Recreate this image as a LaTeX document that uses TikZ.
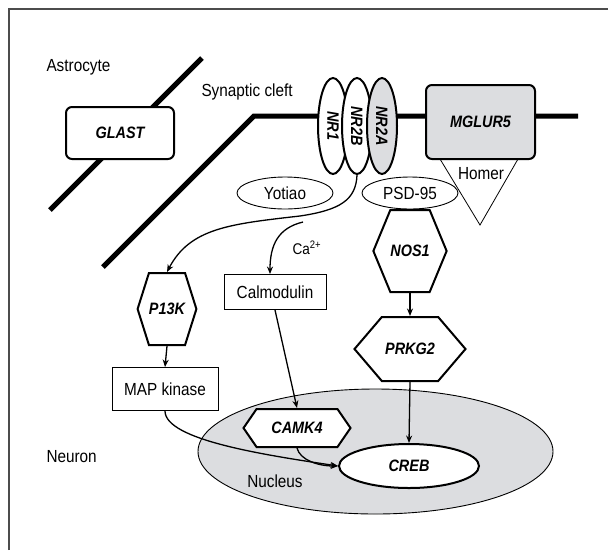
\documentclass[tikz,border=0pt]{standalone}
\usepackage{fontspec}
\setmainfont{Liberation Sans}[FakeStretch=0.875]
\usetikzlibrary{shapes.geometric,shapes.symbols,arrows.meta}
\definecolor{cellgray}{RGB}{220,221,224}
\newcommand\labfont{\fontsize{16.5}{18}\selectfont\bfseries\itshape}
\newcommand\txtfont{\fontsize{17.5}{20}\selectfont}

\begin{document}
\begin{tikzpicture}[x=1pt,y=-1pt,>={Stealth[length=7.5pt,width=6pt]},
  membrane/.style={line width=5pt},
  protein/.style={draw, line width=2pt, fill=white, font=\labfont, inner sep=0pt},
  hexa/.style={protein, signal, signal to=east and west},
  plainbox/.style={draw, line width=0.9pt, fill=white, font=\txtfont, inner sep=0pt},
  oval/.style={draw, line width=0.9pt, ellipse, fill=white, font=\txtfont, inner sep=0pt},
  nr/.style={protein, ellipse, rotate=-90, minimum width=96pt, minimum height=30pt},
  arrow/.style={->, line width=1.3pt}]
\useasboundingbox (0,0) rectangle (608,550);
\draw[line width=1.8pt, gray!60!black] (9,550)--(9,9)--(608,9);

\node[font=\txtfont, anchor=base west] (astro) at (43,71) {Astrocyte};
\node[font=\txtfont, anchor=base west] (cleft) at (198,96) {Synaptic cleft};
\node[font=\txtfont, anchor=base west] (neuron) at (43,462) {Neuron};

\draw[membrane] (50,210)--(202,58);
\draw[membrane] (103,267)--(254,116)--(578,116);

\node[protein, rounded corners=6pt, minimum width=108pt, minimum height=52pt] (glast) at (120,133) {GLAST};

\foreach \n/\x/\c/\t in {nr1/333/white/NR1, nr2b/357/white/NR2B, nr2a/382/cellgray/NR2A}{
	\node[nr, fill=\c] (\n) at (\x,126) {\t};
}

\draw[line width=0.8pt] (440,159)--(480,225)--(518,159);
\node[protein, rounded corners=6pt, fill=cellgray, minimum width=109pt, minimum height=74pt] (mglur) at (480.5,122) {MGLUR5};
\node[font=\txtfont, anchor=base] (homer) at (481,179) {Homer};

\node[oval, minimum width=96pt, minimum height=32pt] (yotiao) at (285,193) {Yotiao};
\node[oval, minimum width=96pt, minimum height=32pt] (psd) at (410,193) {PSD-95};

\node[hexa, minimum width=68pt, minimum height=82pt, signal pointer angle=135] (nos1) at (410,251) {NOS1};
\node[hexa, minimum width=111pt, minimum height=64pt, signal pointer angle=99] (prkg2) at (410,349) {PRKG2};
\node[hexa, minimum width=58pt, minimum height=72pt, signal pointer angle=145] (p13k) at (167,309) {P13K};

\node[plainbox, minimum width=106pt, minimum height=43pt] (map) at (165,389) {MAP kinase};
\node[plainbox, minimum width=102pt, minimum height=35pt] (calm) at (275,292) {Calmodulin};
\node[font=\fontsize{15.5}{17}\selectfont, anchor=base west] (ca) at (289,254) {Ca\textsuperscript{2+}};

\node[draw, ellipse, line width=0.9pt, fill=cellgray, minimum width=355pt, minimum height=125pt] (nucleus) at (375.5,451.5) {};
\node[font=\txtfont, anchor=base] (nuctext) at (275,487) {Nucleus};
\node[hexa, minimum width=107pt, minimum height=38pt, signal pointer angle=111] (camk4) at (297,428) {CAMK4};
\node[protein, ellipse, minimum width=140pt, minimum height=44pt] (creb) at (409,466) {CREB};

\coordinate (castart) at (303,222);
\draw[arrow] (nr2b.east) .. controls (356,200) and (340,210) .. (300,216) .. controls (230,224) and (190,228) .. (p13k.north);
\draw[arrow] (castart) .. controls (278,228) and (270,245) .. ([xshift=-5pt]calm.north);
\draw[arrow] (nos1.south)--(prkg2.north);
\draw[arrow] (p13k.south)--(map.north);
\draw[arrow] (prkg2.south)--(creb.north);
\draw[arrow] (calm.south)--(camk4.north);
\draw[arrow] (map.south) .. controls (165,440) and (265,455) .. (creb.west);
\draw[arrow] (camk4.south) .. controls (300,460) and (318,466) .. (creb.west);

\end{tikzpicture}
\end{document}
